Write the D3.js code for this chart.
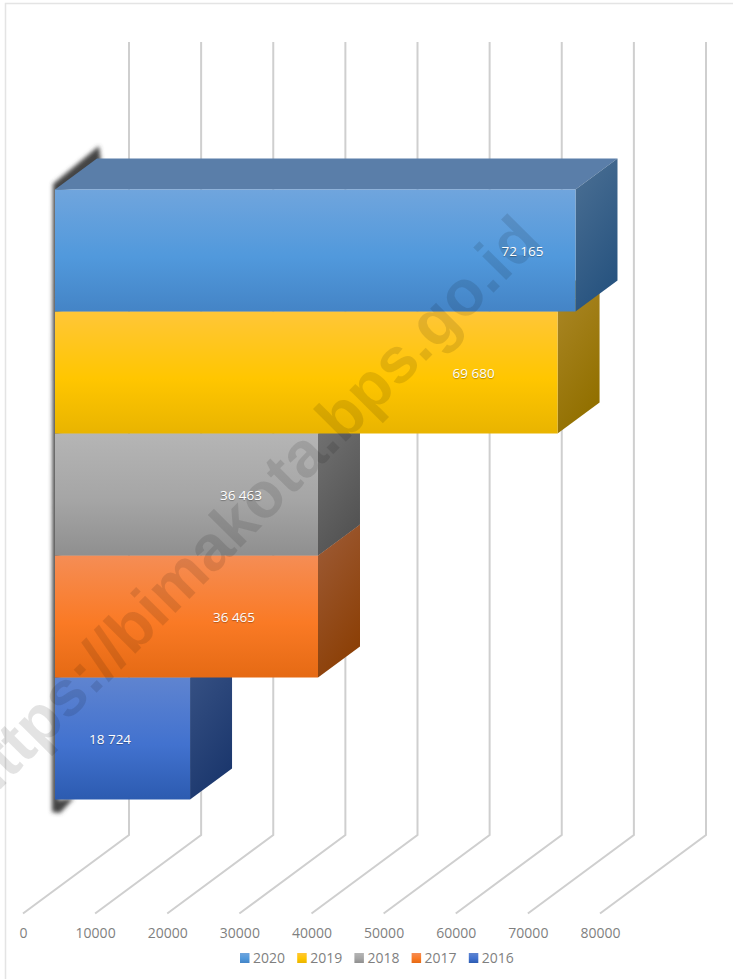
<!DOCTYPE html>
<html><head><meta charset="utf-8">
<script src="https://cdn.jsdelivr.net/npm/d3@7"></script>
<style>html,body{margin:0;padding:0;background:#fff}svg{display:block}text{font-family:"Open Sans",sans-serif}</style>
</head><body><svg id="c" width="733" height="979"></svg>
<script>
const years = ["2020","2019","2018","2017","2016"];
const values = [72165,69680,36463,36465,18724];
const ticks = [0,10000,20000,30000,40000,50000,60000,70000,80000];
const frontColors = [["#70a5dd","#5199dc","#4484c6"],["#ffc638","#ffc600","#e9b400"],["#b5b5b5","#a5a5a5","#8f8f8f"],["#f58d55","#fa7a25","#e56a14"],["#5f84d0","#4272cf","#2c5bb0"]];
const sideColors = [["#4c7094","#285480"],["#ac8828","#927000"],["#767676","#545454"],["#9e5c38","#8c4007"],["#3b5587","#1c386e"]];
const topColors = ["#5a7ea9","#a98a2a","#7a7a7a","#a0603a","#3b5587"];

const svg = d3.select("#c"), defs = svg.append("defs");
const depthX = 42, depthY = 31;
const axisX = d3.scaleLinear().domain([0,80000]).range([23,600]);
const backX = d3.scaleLinear().domain([0,80000]).range([129,706]);
const barX = d3.scaleLinear().domain([0,80000]).range([55,632]);
const barY = d3.scaleBand().domain(years).range([189.5,799.5]);
const fmt = d3.formatLocale({decimal:".",thousands:" ",grouping:[3],currency:["",""]}).format(",d");

// frame
svg.append("path").attr("d","M5.5,979V3.5H733").attr("fill","none").attr("stroke","#e4e4e4").attr("stroke-width",1.5);

// grid walls
const grid = svg.append("g").attr("fill","none").attr("stroke","#cfcfcf").attr("stroke-width",2);
grid.selectAll("path").data(ticks).join("path")
  .attr("d",t=>`M${backX(t)},42V835L${axisX(t)},913.5`);

// wall shadow
defs.append("filter").attr("id","blur").attr("x","-50%").attr("y","-5%").attr("width","200%").attr("height","110%")
  .append("feGaussianBlur").attr("stdDeviation",2);
svg.append("path").attr("filter","url(#blur)").attr("fill","#444")
  .attr("d","M53,184L99,146L101,161L60,195L58,800L74,798L60,813L52,812Z");

// gradients
years.forEach((y,i)=>{
  const g = defs.append("linearGradient").attr("id","f"+y).attr("x1",0).attr("y1",0).attr("x2",0).attr("y2",1);
  frontColors[i].forEach((c,j)=>g.append("stop").attr("offset",[0,.55,1][j]).attr("stop-color",c));
  const s = defs.append("linearGradient").attr("id","s"+y).attr("x1",0).attr("y1",0).attr("x2",.4).attr("y2",1);
  sideColors[i].forEach((c,j)=>s.append("stop").attr("offset",j).attr("stop-color",c));
});

// bars, bottom to top
const order = years.map((y,i)=>i).reverse();
const bars = svg.append("g").selectAll("g").data(order).join("g");
bars.append("path").attr("fill",i=>topColors[i])
  .attr("d",i=>{const y=barY(years[i]),x0=barX(0),x1=barX(values[i]);
    return `M${x0},${y}L${x0+depthX},${y-depthY}H${x1+depthX}L${x1},${y}Z`;});
bars.append("path").attr("fill",i=>`url(#s${years[i]})`)
  .attr("d",i=>{const y=barY(years[i]),h=barY.bandwidth(),x1=barX(values[i]);
    return `M${x1},${y}L${x1+depthX},${y-depthY}V${y+h-depthY}L${x1},${y+h}Z`;});
bars.append("rect").attr("fill",i=>`url(#f${years[i]})`)
  .attr("x",barX(0)).attr("y",i=>barY(years[i]))
  .attr("width",i=>barX(values[i])-barX(0)).attr("height",barY.bandwidth());

// watermark
svg.append("text").attr("transform","translate(-18,808) rotate(-45.2)")
  .attr("font-size",64).attr("font-weight",700).attr("fill","#000").attr("fill-opacity",.11)
  .style("font-family","'Liberation Sans',sans-serif")
  .text("https://bimakota.bps.go.id");

// value labels
const labelInset = {"2020":53,"2019":84,"2018":77,"2017":84,"2016":80};
svg.append("g").selectAll("text").data(order).join("text")
  .attr("x",i=>barX(values[i])-labelInset[years[i]])
  .attr("y",i=>barY(years[i])+barY.bandwidth()/2+5)
  .attr("text-anchor","middle").attr("font-size",13.5).attr("fill","#fff")
  .style("text-shadow","0 1px 1px rgba(0,0,0,.3)")
  .text(i=>fmt(values[i]));

// axis
const ax = svg.append("g").attr("transform","translate(0,925)")
  .call(d3.axisBottom(axisX).tickValues(ticks).tickFormat(d3.format("d")).tickSize(0).tickPadding(0));
ax.select(".domain").remove();
ax.selectAll("text").attr("font-size",14).attr("fill","#7f7f7f").attr("dy","0.3em").attr("y",9).style("font-family",'"Open Sans",sans-serif');

// legend
const legend = svg.append("g").selectAll("g").data(years).join("g")
  .attr("transform",(y,i)=>`translate(${240+57.2*i},953)`);
legend.append("rect").attr("width",9.5).attr("height",10).attr("fill",y=>`url(#f${y})`);
legend.append("text").attr("x",13).attr("y",10).attr("font-size",14).attr("fill","#7f7f7f").text(y=>y);
</script></body></html>
